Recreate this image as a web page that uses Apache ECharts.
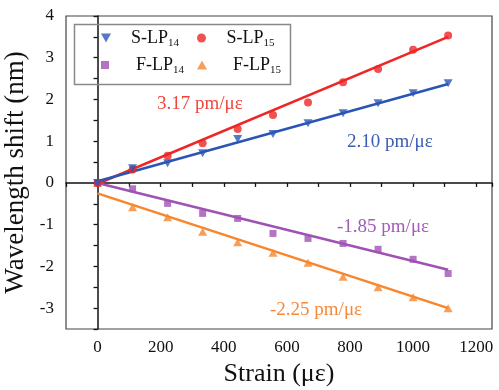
<!DOCTYPE html>
<html>
<head>
<meta charset="utf-8">
<script src="https://cdn.jsdelivr.net/npm/echarts@6/dist/echarts.min.js"></script>
<style>html,body{margin:0;padding:0;background:#fff}#c{width:499px;height:390px}</style>
</head>
<body>
<div id="c"></div>
<script>
const strain = [0, 111, 222, 333, 444, 556, 667, 778, 889, 1000, 1111];
const sLP14 = [0, 0.35, 0.47, 0.71, 1.05, 1.17, 1.43, 1.67, 1.91, 2.15, 2.39];
const sLP15 = [0, 0.32, 0.65, 0.95, 1.29, 1.63, 1.93, 2.41, 2.73, 3.19, 3.53];
const fLP14 = [0, -0.14, -0.49, -0.73, -0.85, -1.21, -1.33, -1.45, -1.59, -1.83, -2.17];
const fLP15 = [0, -0.58, -0.82, -1.17, -1.42, -1.67, -1.91, -2.25, -2.50, -2.74, -3.00];
const fitStrain = [0, 1111];
const fitS14 = [0.04, 2.37];
const fitS15 = [-0.02, 3.50];
const fitF14 = [0.0, -2.08];
const fitF15 = [-0.25, -3.00];
const xLabelTicks = [0, 200, 400, 600, 800, 1000, 1200];
const yLabelTicks = [-3, -2, -1, 0, 1, 2, 3, 4];
const slopeLabels = ['3.17 pm/με', '2.10 pm/με', '-1.85 pm/με', '-2.25 pm/με'];

const FONT = 'Liberation Serif';
const C = {s14: '#2b55b5', s15: '#ee2626', f14: '#a052b4', f15: '#f7862c'};
const downTri = 'path://M0,0 L10,0 L5,9 Z';
const upTri = 'path://M5,0 L10,9 L0,9 Z';
const square = 'path://M0,0 L10,0 L10,10 L0,10 Z';
const zip = (xs, ys) => xs.map((x, i) => [x, ys[i]]);

const chart = echarts.init(document.getElementById('c'), null, {renderer: 'canvas'});

function legendAt(name, left, top, icon, h, padLeft) {
  return {
    data: [{name: name, icon: icon}],
    left: left, top: top, padding: 0,
    itemWidth: 40, itemHeight: h,
    selectedMode: false,
    formatter: n => n.replace(/(\d+)$/, '{s|$1}'),
    textStyle: {
      fontFamily: FONT, fontSize: 18, color: '#111', lineHeight: 22,
      padding: [0, 0, 0, padLeft],
      rich: {s: {fontFamily: FONT, fontSize: 11, lineHeight: 11, verticalAlign: 'bottom', color: '#111'}}
    }
  };
}

const option = {
  animation: false,
  backgroundColor: '#fff',
  grid: {left: 66, right: 7, top: 16, bottom: 61, containLabel: false, outerBoundsMode: 'none',
    show: true, borderColor: '#444', borderWidth: 1.2, backgroundColor: 'transparent'},
  legend: [
    legendAt('S-LP14', 101, 27, downTri, 9, 0),
    legendAt('S-LP15', 197, 27, 'circle', 9, 0),
    legendAt('F-LP14', 101, 54, square, 8, 6),
    legendAt('F-LP15', 197, 54, upTri, 9, 6)
  ],
  xAxis: {
    type: 'value', min: -100, max: 1250, interval: 100,
    splitLine: {show: false},
    name: 'Strain (με)', nameLocation: 'middle', nameGap: 30,
    nameTextStyle: {fontFamily: FONT, fontSize: 26, color: '#111'},
    axisLine: {show: true, lineStyle: {color: '#111', width: 1.5}},
    axisTick: {show: true, inside: false, length: 4, lineStyle: {color: '#111', width: 1.3}},
    axisLabel: {show: true, margin: 10, fontFamily: 'serif', fontSize: 17, color: '#111',
      formatter: v => (xLabelTicks.indexOf(Math.round(v)) >= 0 ? String(Math.round(v)) : '')}
  },
  yAxis: {
    type: 'value', min: -3.5, max: 4, interval: 0.5,
    splitLine: {show: false},
    name: 'Wavelength shift (nm)', nameLocation: 'middle', nameGap: 24,
    nameTextStyle: {fontFamily: FONT, fontSize: 27, color: '#111'},
    axisLine: {show: true, lineStyle: {color: '#111', width: 1.5}},
    axisTick: {show: true, inside: false, length: 4, lineStyle: {color: '#111', width: 1.3}},
    axisLabel: {show: true, margin: 12, fontFamily: 'serif', fontSize: 17, color: '#111',
      formatter: v => (yLabelTicks.indexOf(v) >= 0 ? String(v) : '')}
  },
  series: [
    {type: 'line', data: zip(fitStrain, fitS15), symbol: 'none', lineStyle: {color: C.s15, width: 2.6}, z: 2, silent: true},
    {type: 'line', data: zip(fitStrain, fitS14), symbol: 'none', lineStyle: {color: C.s14, width: 2.6}, z: 2, silent: true},
    {type: 'line', data: zip(fitStrain, fitF14), symbol: 'none', lineStyle: {color: C.f14, width: 2.6}, z: 2, silent: true},
    {type: 'line', data: zip(fitStrain, fitF15), symbol: 'none', lineStyle: {color: C.f15, width: 2.6}, z: 2, silent: true},
    {name: 'F-LP15', type: 'scatter', data: zip(strain, fLP15), symbol: upTri, symbolSize: [9, 8], itemStyle: {color: C.f15}, z: 3},
    {name: 'F-LP14', type: 'scatter', data: zip(strain, fLP14), symbol: square, symbolSize: 7, itemStyle: {color: C.f14}, z: 3},
    {name: 'S-LP15', type: 'scatter', data: zip(strain, sLP15), symbol: 'circle', symbolSize: 8, itemStyle: {color: C.s15}, z: 3},
    {name: 'S-LP14', type: 'scatter', data: zip(strain, sLP14), symbol: downTri, symbolSize: [9, 8], itemStyle: {color: C.s14}, z: 3}
  ],
  graphic: [
    {type: 'rect', left: 72, top: 22, shape: {width: 216, height: 60}, style: {fill: 'none', stroke: '#888', lineWidth: 1.5}, z: 10},
    {type: 'text', x: 157, y: 104, style: {text: slopeLabels[0], fill: '#f0473c', font: '19px "Liberation Serif"', verticalAlign: 'middle'}},
    {type: 'text', x: 347, y: 142, style: {text: slopeLabels[1], fill: '#3a5db4', font: '19px "Liberation Serif"', verticalAlign: 'middle'}},
    {type: 'text', x: 337, y: 227, style: {text: slopeLabels[2], fill: '#a45cb9', font: '19px "Liberation Serif"', verticalAlign: 'middle'}},
    {type: 'text', x: 270, y: 310, style: {text: slopeLabels[3], fill: '#f7883a', font: '19px "Liberation Serif"', verticalAlign: 'middle'}}
  ]
};
chart.setOption(option);
</script>
</body>
</html>
